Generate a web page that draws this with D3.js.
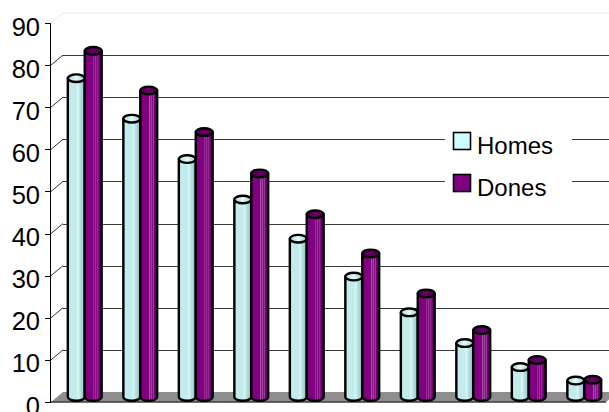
<!DOCTYPE html>
<html>
<head>
<meta charset="utf-8">
<script src="https://cdn.jsdelivr.net/npm/d3@7"></script>
<style>
  html, body { margin: 0; padding: 0; background: #fff; }
  svg { display: block; }
</style>
</head>
<body>
<svg id="chart" width="609" height="412"></svg>
<script>
const categories = ["C1","C2","C3","C4","C5","C6","C7","C8","C9","C10"];
const seriesNames = ["Homes","Dones"];
const homes = [75.7, 66.1, 56.5, 46.9, 37.6, 28.6, 20.1, 12.8, 7.1, 3.9];
const dones = [82.2, 72.8, 62.9, 53.1, 43.4, 34.1, 24.6, 15.9, 8.8, 4.1];
const yTicks = [0,10,20,30,40,50,60,70,80,90];

const W = 609, H = 412;
const svg = d3.select("#chart");
const font = "'Liberation Sans', Arial, sans-serif";

// 3D depth offsets
const DX = 12, DY = -10;
const MX = DX/2, MY = DY/2;

const y = d3.scaleLinear().domain([0, 90]).range([402, 23]);
const x0 = d3.scaleBand().domain(categories).range([51, 606]).paddingInner(0.39).paddingOuter(0.195);
const x1 = d3.scaleBand().domain(seriesNames).range([0, x0.bandwidth()]);
const color = d3.scaleOrdinal().domain(seriesNames).range(["#CCFFFF", "#800080"]);

// gradients
const defs = svg.append("defs");
function grad(id, stops) {
  const g = defs.append("linearGradient").attr("id", id).attr("x1","0%").attr("x2","100%").attr("y1","0%").attr("y2","0%");
  stops.forEach(s => g.append("stop").attr("offset", s[0]).attr("stop-color", s[1]));
}
grad("gH", [["0%","#86bcbc"],["12%","#c4ecec"],["45%","#c2eaea"],["62%","#d6f4f4"],["72%","#b8e2e2"],["85%","#a6d4d4"],["100%","#74aaaa"]]);
grad("gD", [["0%","#4e004e"],["12%","#800080"],["50%","#800080"],["54%","#b060b0"],["58%","#800080"],["66%","#a448a4"],["70%","#800080"],["78%","#9a3a9a"],["82%","#800080"],["100%","#480048"]]);
grad("gHtop", [["0%","#a8d6d6"],["50%","#e4fafa"],["100%","#a0cccc"]]);
grad("gDtop", [["0%","#4a004a"],["50%","#6a006a"],["100%","#4a004a"]]);

// back wall top edge (faint)
svg.append("line").attr("x1", 51).attr("y1", y(90)).attr("x2", 51+DX).attr("y2", y(90)+DY)
  .attr("stroke", "#e6e6e6").attr("stroke-width", 1);
svg.append("line").attr("x1", 51+DX).attr("y1", y(90)+DY).attr("x2", W).attr("y2", y(90)+DY)
  .attr("stroke", "#ececec").attr("stroke-width", 1);

// gridlines (back wall) and diagonal side-wall lines
const gridVals = yTicks.filter(v => v > 0 && v < 90);
svg.append("g").selectAll("line.grid").data(gridVals).join("line")
  .attr("x1", 51+DX).attr("x2", W)
  .attr("y1", d => Math.round(y(d)+DY)+0.5).attr("y2", d => Math.round(y(d)+DY)+0.5)
  .attr("stroke", "#3a3a3a").attr("stroke-width", 1);
svg.append("g").selectAll("line.diag").data(gridVals).join("line")
  .attr("x1", 51).attr("y1", d => y(d))
  .attr("x2", 51+DX).attr("y2", d => y(d)+DY)
  .attr("stroke", "#333").attr("stroke-width", 1);

// floor
const fl = y(0);
svg.append("path")
  .attr("d", `M51,${fl} L606,${fl} L${606+DX},${fl+DY} L${51+DX},${fl+DY} Z`)
  .attr("fill", "#8e8e8e");
svg.append("line").attr("x1", 51).attr("x2", 606).attr("y1", fl).attr("y2", fl)
  .attr("stroke", "#3a3a3a").attr("stroke-width", 1.4);

// legend background + legend
const lg = svg.append("g");
lg.append("rect").attr("x", 445).attr("y", 118).attr("width", 127).attr("height", 90).attr("fill", "#fff");
seriesNames.forEach((s, i) => {
  const yy = 132 + i*42;
  lg.append("rect").attr("x", 453.5).attr("y", yy+0.5).attr("width", 17).attr("height", 17)
    .attr("fill", color(s)).attr("stroke", "#000").attr("stroke-width", 1.6);
  lg.append("text").attr("x", 477).attr("y", yy + 22.3).text(s)
    .attr("font-family", font).attr("font-size", 24).attr("fill", "#000");
});

// bars (cylinders)
const RY = 3.8;
const data = categories.map((c, i) => ({ c, vals: [ {s:"Homes", v: homes[i]}, {s:"Dones", v: dones[i]} ] }));
const gBars = svg.append("g");
data.forEach(d => {
  d.vals.forEach(b => {
    const bx = x0(d.c) + x1(b.s) + MX;
    const bw = x1.bandwidth();
    const top = y(b.v) + MY;
    const base = y(0) + MY;
    const rx = bw/2;
    const g = gBars.append("g");
    g.append("path")
      .attr("d", `M${bx},${top} L${bx},${base} A${rx},${RY} 0 0 0 ${bx+bw},${base} L${bx+bw},${top} Z`)
      .attr("fill", b.s === "Homes" ? "url(#gH)" : "url(#gD)")
      .attr("stroke", "#000").attr("stroke-width", 2.4).attr("stroke-linejoin", "round");
    g.append("ellipse").attr("cx", bx+rx).attr("cy", top).attr("rx", rx).attr("ry", RY)
      .attr("fill", b.s === "Homes" ? "url(#gHtop)" : "url(#gDtop)")
      .attr("stroke", "#000").attr("stroke-width", 2.4);
  });
});

// y axis
const ax = svg.append("g");
ax.append("line").attr("x1", 50.5).attr("x2", 50.5).attr("y1", y(90)).attr("y2", y(0))
  .attr("stroke", "#000").attr("stroke-width", 1);
ax.selectAll("line.tick").data(yTicks).join("line")
  .attr("x1", 45).attr("x2", 51)
  .attr("y1", d => Math.round(y(d))+0.5).attr("y2", d => Math.round(y(d))+0.5)
  .attr("stroke", "#000").attr("stroke-width", 1);
ax.selectAll("text").data(yTicks).join("text")
  .attr("x", 40).attr("y", d => y(d) + 12.6)
  .attr("text-anchor", "end")
  .attr("font-family", font).attr("font-size", 25.5).attr("fill", "#000")
  .text(d => d);
</script>
</body>
</html>
